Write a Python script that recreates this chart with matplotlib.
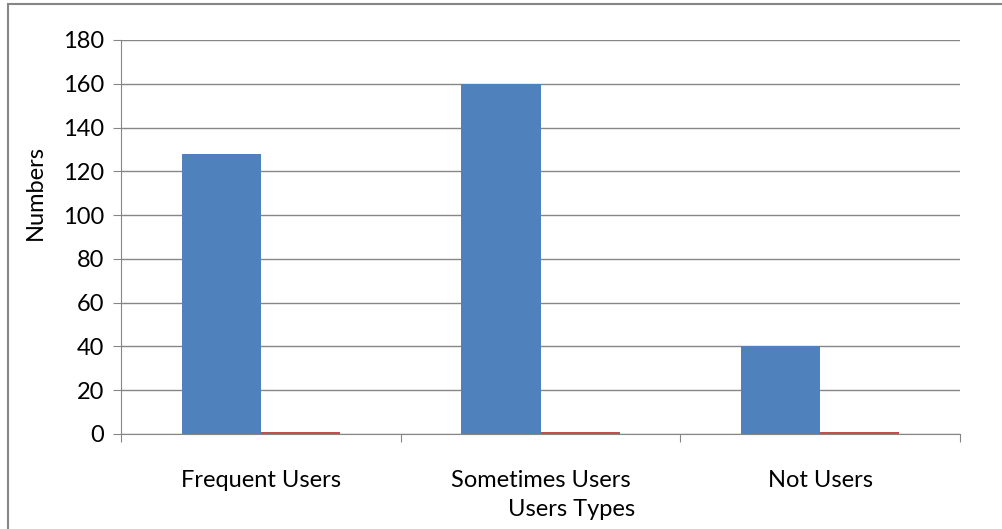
import numpy as np
import matplotlib.pyplot as plt
from matplotlib.patches import Rectangle

# data
categories = ["Frequent Users", "Sometimes Users", "Not Users"]
series1 = [128, 160, 40]
series2 = [1, 1, 1]
yticks = [0, 20, 40, 60, 80, 100, 120, 140, 160, 180]

plt.rcParams['font.family'] = ['Lato', 'DejaVu Sans']

fig = plt.figure(figsize=(10.02, 5.29), dpi=100)
ax = fig.add_axes([121/1002, 1-434/529, (960-121)/1002, (434-40)/529])

x = np.arange(len(categories))
w = 0.283
ax.bar(x - w/2, series1, w, color='#4F81BD', zorder=3)
ax.bar(x + w/2, series2, w, color='#C0504D', zorder=3)

ax.set_xlim(-0.5, 2.5)
ax.set_ylim(0, 180)
ax.set_yticks(yticks)
ax.tick_params(axis='y', length=6, color='#868686', labelsize=17, pad=6)
ax.grid(axis='y', color='#868686', linewidth=1, zorder=0)

ax.set_xticks([-0.5, 0.5, 1.5, 2.5])
ax.set_xticklabels([])
ax.tick_params(axis='x', length=6, color='#868686')
ax.set_xticks(x, minor=True)
ax.set_xticklabels(categories, minor=True, fontsize=17)
ax.tick_params(axis='x', which='minor', length=0, pad=26)

for s in ['top', 'right']:
    ax.spines[s].set_visible(False)
for s in ['left', 'bottom']:
    ax.spines[s].set_color('#868686')

fig.text(35/1002, 1-193/529, "Numbers", rotation=90, ha='center', va='center', fontsize=17)
fig.text(572/1002, 1-509/529, "Users Types", ha='center', va='center', fontsize=17)

fig.patches.append(Rectangle((8/1002, -0.1), 1.2, 1-4/529+0.1, transform=fig.transFigure,
                             fill=False, edgecolor='#868686', linewidth=1.5))

fig.savefig("out.png", dpi=100)
